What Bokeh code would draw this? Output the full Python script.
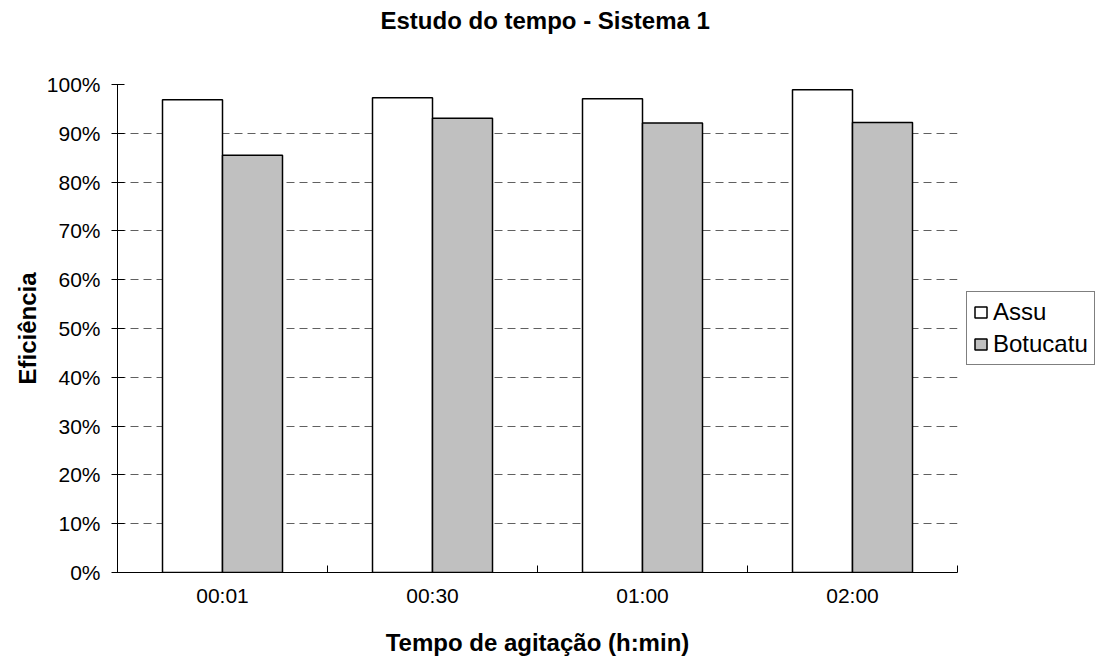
from bokeh.plotting import figure
from bokeh.models import (FixedTicker, NumeralTickFormatter, CustomJSTickFormatter,
                          Range1d, ColumnDataSource, Legend, LegendItem, Title)
from bokeh.embed import file_html
from bokeh.resources import INLINE

# ---- data ----
categories = ["00:01", "00:30", "01:00", "02:00"]
assu = [0.969, 0.973, 0.971, 0.989]
botucatu = [0.855, 0.931, 0.921, 0.922]
series_names = ["Assu", "Botucatu"]
y_ticks = [0.0, 0.1, 0.2, 0.3, 0.4, 0.5, 0.6, 0.7, 0.8, 0.9, 1.0]
title_text = "Estudo do tempo - Sistema 1"

FONT = "Liberation Sans"
bar_w = 0.2857

idx = list(range(len(categories)))
src = ColumnDataSource(dict(
    xa=[i + 0.5 - bar_w / 2 for i in idx],
    xb=[i + 0.5 + bar_w / 2 for i in idx],
    assu=assu, bot=botucatu,
))

p = figure(frame_width=840, frame_height=488, output_backend="svg", toolbar_location=None,
           title=None,
           x_range=Range1d(0, len(categories)), y_range=Range1d(0, 1.0),
           min_border_left=117, min_border_right=0, min_border_top=84,
           min_border_bottom=84)
p.outline_line_color = None
p.background_fill_color = "white"
p.border_fill_color = "white"

# spacer (invisible blank text) and the real title
spacer = Title(text=" ", text_font=FONT, text_font_size="24px", text_line_height=1.0,
               standoff=22, text_color="white")
p.add_layout(spacer, "above")
ttl = Title(text=title_text, align="left", offset=263, text_color="black",
            text_font=FONT, text_font_size="24px", text_font_style="bold",
            text_line_height=1.0, standoff=0)
p.add_layout(ttl, "above")

r1 = p.vbar(x="xa", top="assu", width=bar_w, source=src, fill_color="white",
            line_color="black", line_width=1.5)
r2 = p.vbar(x="xb", top="bot", width=bar_w, source=src, fill_color="#C0C0C0",
            line_color="black", line_width=1.5)

# x axis: labels at centers, tick marks at category boundaries (minor ticks)
xa = p.xaxis[0]
xa.ticker = FixedTicker(ticks=[i + 0.5 for i in idx],
                        minor_ticks=[float(i) for i in range(len(categories) + 1)])
xa.formatter = CustomJSTickFormatter(args=dict(cats=categories),
                                     code="const k = Math.round(tick - 0.5); return (k >= 0 && k < cats.length) ? cats[k] : '';")
xa.major_tick_in = 0
xa.major_tick_out = 0
xa.minor_tick_in = 7
xa.minor_tick_out = 0
xa.minor_tick_line_color = "black"
xa.axis_line_color = "black"
xa.major_label_text_font = FONT
xa.major_label_text_font_size = "21px"
xa.major_label_text_color = "black"
xa.major_label_standoff = 11
xa.axis_label = "Tempo de agitação (h:min)"
xa.axis_label_text_font = FONT
xa.axis_label_text_font_size = "24px"
xa.axis_label_text_font_style = "bold"
xa.axis_label_text_color = "black"
xa.axis_label_standoff = 19

ya = p.yaxis[0]
ya.ticker = FixedTicker(ticks=y_ticks, minor_ticks=[])
ya.formatter = NumeralTickFormatter(format="0%")
ya.major_tick_in = 7
ya.major_tick_out = 6
ya.major_tick_line_color = "black"
ya.axis_line_color = "black"
ya.major_label_text_font = FONT
ya.major_label_text_font_size = "21px"
ya.major_label_text_color = "black"
ya.major_label_standoff = 11
ya.axis_label = "Eficiência"
ya.axis_label_text_font = FONT
ya.axis_label_text_font_size = "24px"
ya.axis_label_text_font_style = "bold"
ya.axis_label_text_color = "black"
ya.axis_label_standoff = 3

p.xgrid.visible = False
p.ygrid.grid_line_color = "#606060"
p.ygrid.grid_line_dash = "8 5"
p.ygrid.grid_line_width = 1

lg = Legend(items=[LegendItem(label=series_names[0], renderers=[r1]),
                   LegendItem(label=series_names[1], renderers=[r2])],
            location="center_left")
lg.border_line_color = "black"
lg.border_line_width = 1
lg.background_fill_color = "white"
lg.background_fill_alpha = 1
lg.label_text_font = FONT
lg.label_text_font_size = "24px"
lg.label_text_color = "black"
lg.glyph_width = 15
lg.glyph_height = 14
lg.label_standoff = 5
lg.padding = 6
lg.spacing = 4
lg.margin = 9
p.add_layout(lg, "right")

open("out.html", "w").write(file_html(p, INLINE))
